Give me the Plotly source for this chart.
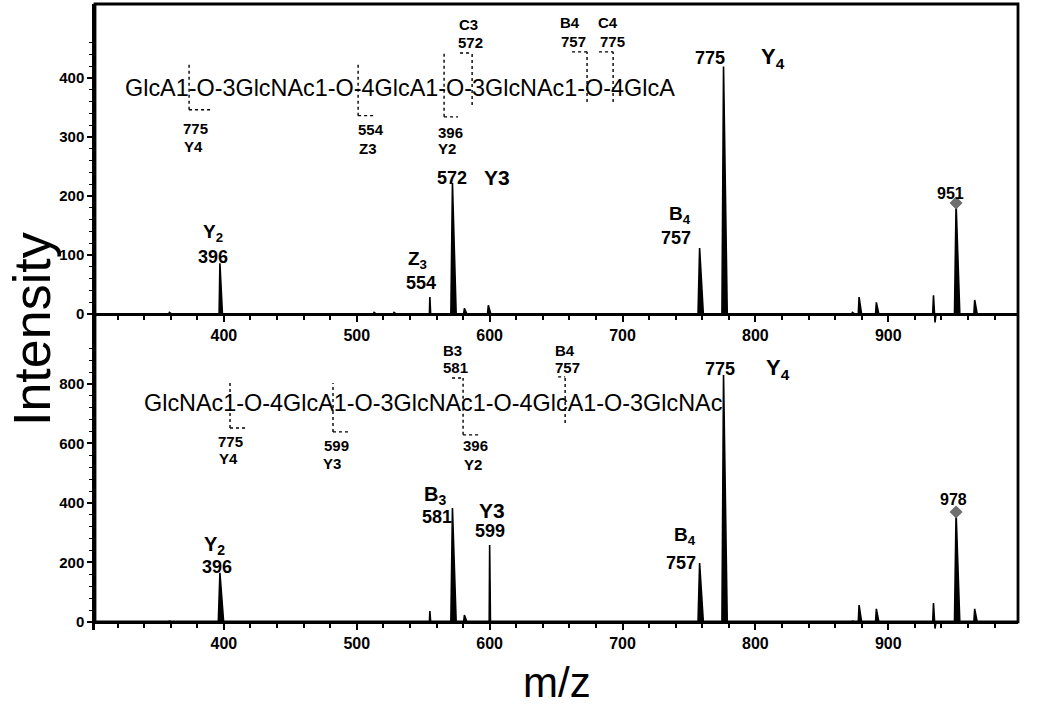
import plotly.graph_objects as go

# ---------------- data ----------------
# spectrum 1 (top): peak centres (m/z), heights, negative lobe
s1_mz = [359, 397, 513, 528, 555, 572, 581, 599, 758, 776, 873, 878, 891, 934, 951, 965]
s1_int = [3, 86, 3, 3, 29, 222, 10, 15, 112, 419, 3, 29, 20, 32, 188, 24]
s1_dip = [0, 0, 0, 0, 0, 0, 0, 0, 0, 0, 0, 0, 0, -14, 0, 0]

# spectrum 2 (bottom)
s2_mz = [359, 397, 555, 572, 581, 600, 758, 776, 873, 878, 891, 934, 951, 965]
s2_int = [3, 165, 37, 383, 23, 259, 198, 830, 3, 57, 44, 64, 370, 44]
s2_dip = [0, 0, 0, 0, 0, 0, 0, 0, 0, 0, 0, -22, 0, 0]

# precursor ions
prec1_mz, prec1_int, prec1_label = 951, 188, "951"
prec2_mz, prec2_int, prec2_label = 951, 370, "978"

x_ticks = [400, 500, 600, 700, 800, 900]
y1_ticks = [0, 100, 200, 300, 400]
y2_ticks = [0, 200, 400, 600, 800]

seq1 = "GlcA1-O-3GlcNAc1-O-4GlcA1-O-3GlcNAc1-O-4GlcA"
seq2 = "GlcNAc1-O-4GlcA1-O-3GlcNAc1-O-4GlcA1-O-3GlcNAc"

XR = [303, 997.6]
Y1R = [-15, 525]
Y2R = [-27, 1005]
SPLIT = 0.4904


def peak_path(mz, inten, dip, x0, x1):
    xs, ys = [x0], [0]
    for c, h, d in zip(mz, inten, dip):
        if c in (555, 600):
            wl, wr = 0.35, 0.6
        elif h >= 100:
            wl, wr = 1.2, 2.8
        else:
            wl, wr = 0.6, 1.9
        if d < 0:
            xs += [c - wl, c, c + wr * 0.6, c + wr]
            ys += [0, h, d, 0]
        else:
            xs += [c - wl, c, c + wr]
            ys += [0, h, 0]
    xs.append(x1)
    ys.append(0)
    return xs, ys


fig = go.Figure()

x1s, y1s = peak_path(s1_mz, s1_int, s1_dip, XR[0], XR[1])
x2s, y2s = peak_path(s2_mz, s2_int, s2_dip, XR[0], XR[1])

fig.add_trace(go.Scatter(x=x1s, y=y1s, mode="lines", fill="tozeroy",
                         line=dict(color="black", width=1.6), fillcolor="black",
                         xaxis="x", yaxis="y", showlegend=False, hoverinfo="skip"))
fig.add_trace(go.Scatter(x=x2s, y=y2s, mode="lines", fill="tozeroy",
                         line=dict(color="black", width=1.6), fillcolor="black",
                         xaxis="x2", yaxis="y2", showlegend=False, hoverinfo="skip"))
fig.add_trace(go.Scatter(x=[prec1_mz], y=[prec1_int], mode="markers",
                         marker=dict(symbol="diamond", size=10, color="#6e6e6e"),
                         xaxis="x", yaxis="y", showlegend=False, cliponaxis=False))
fig.add_trace(go.Scatter(x=[prec2_mz], y=[prec2_int], mode="markers",
                         marker=dict(symbol="diamond", size=10, color="#6e6e6e"),
                         xaxis="x2", yaxis="y2", showlegend=False, cliponaxis=False))

FONT = "Liberation Sans, Arial, sans-serif"
pos1 = SPLIT + (1 - SPLIT) * (0 - Y1R[0]) / (Y1R[1] - Y1R[0])
pos2 = SPLIT * (0 - Y2R[0]) / (Y2R[1] - Y2R[0])

xcommon = dict(range=XR, showline=True, linecolor="black", linewidth=2.5,
               tickvals=x_ticks, ticks="outside", ticklen=6,
               tickwidth=1.8, tickcolor="black", showgrid=False, zeroline=False,
               tickfont=dict(family=FONT, size=16, color="black", weight="bold"),
               minor=dict(tickvals=list(range(320, 981, 20)), ticks="outside",
                          ticklen=4, tickwidth=1.5, tickcolor="black"),
               domain=[0, 1], anchor="free")
ycommon = dict(showline=True, linecolor="black", linewidth=2.5, ticks="outside",
               ticklen=5, tickwidth=1.8, tickcolor="black", showgrid=False,
               zeroline=False, anchor="x",
               tickfont=dict(family=FONT, size=15, color="black", weight="bold"))

fig.update_layout(
    width=1050, height=708,
    margin=dict(l=95, r=32, t=4, b=78),
    paper_bgcolor="white", plot_bgcolor="white",
    xaxis=dict(xcommon, position=pos1),
    xaxis2=dict(xcommon, position=pos2),
    yaxis=dict(ycommon, range=Y1R, domain=[SPLIT, 1], tickvals=y1_ticks,
               minor=dict(tickvals=list(range(0, 461, 20)), ticks="outside",
                          ticklen=3, tickwidth=1.3, tickcolor="black")),
    yaxis2=dict(ycommon, range=Y2R, domain=[0, SPLIT], tickvals=y2_ticks, anchor="x2",
                minor=dict(tickvals=list(range(0, 921, 40)), ticks="outside",
                           ticklen=3, tickwidth=1.3, tickcolor="black")),
)

shapes = [dict(type="rect", xref="paper", yref="paper", x0=0, x1=1, y0=pos2, y1=1,
               line=dict(color="black", width=2.8), layer="above")]

# cleavage marks: (x, y_low, y_high, bottom-bracket-end or None, top-bracket-start or None)
marks1 = [(373.8, 346, 427, 389.6, None), (501.0, 336, 422, 513.8, None),
          (565.7, 334, 442, 576.2, None), (586.8, 354, 442, None, 577.7),
          (673.3, 359, 444, None, 662.0), (692.9, 359, 444, None, 682.3)]
marks2 = [(404.6, 652, 813, 415.9, None), (482.1, 639, 803, 494.9, None),
          (580.0, 629, 820, 592.8, 571.7), (656.8, 669, 824, None, 651.5)]


def add_marks(marks, xr, yr):
    for x, ylo, yhi, bend, tstart in marks:
        shapes.append(dict(type="line", xref=xr, yref=yr, x0=x, x1=x, y0=ylo, y1=yhi,
                           line=dict(color="black", width=1.4, dash="3px,3px")))
        if bend is not None:
            shapes.append(dict(type="line", xref=xr, yref=yr, x0=x, x1=bend, y0=ylo, y1=ylo,
                               line=dict(color="black", width=1.4, dash="dot")))
        if tstart is not None:
            shapes.append(dict(type="line", xref=xr, yref=yr, x0=tstart, x1=x, y0=yhi, y1=yhi,
                               line=dict(color="black", width=1.4, dash="dot")))


add_marks(marks1, "x", "y")
add_marks(marks2, "x2", "y2")
fig.update_layout(shapes=shapes)

ann = []


def A(text, x, y, size, xr, yr, bold=True, xanchor="center"):
    ann.append(dict(text=text, x=x, y=y, xref=xr, yref=yr,
                    showarrow=False, xanchor=xanchor, yanchor="middle",
                    font=dict(family=FONT, size=size, color="black",
                              weight="bold" if bold else "normal")))


# sequences
A(seq1, 324.1, 383, 23.4, "x", "y", bold=False, xanchor="left")
A(seq2, 338.4, 736, 23.4, "x2", "y2", bold=False, xanchor="left")

# fragment labels on structures (top)
for t, x, y in [("775", 379.0, 315), ("Y4", 376.8, 283), ("554", 510.7, 312), ("Z3", 508.5, 281),
                ("396", 570.2, 308), ("Y2", 567.9, 281), ("C3", 583.7, 490), ("572", 585.3, 459),
                ("B4", 660.5, 493), ("757", 662.8, 461), ("C4", 689.1, 493), ("775", 692.1, 461)]:
    A(t, x, y, 15, "x", "y")
# fragment labels on structures (bottom)
for t, x, y in [("775", 404.6, 605), ("Y4", 403.1, 551), ("599", 485.1, 592), ("Y3", 481.4, 534),
                ("B3", 571.7, 914), ("581", 574.0, 854), ("396", 589.5, 592), ("Y2", 587.3, 531),
                ("B4", 656.8, 914), ("757", 658.3, 857)]:
    A(t, x, y, 15, "x2", "y2")

# peak labels (top)
for t, x, y, s in [("Y<sub>2</sub>", 391.8, 137, 19), ("396", 391.8, 97, 18),
                   ("Z<sub>3</sub>", 545.4, 91, 19), ("554", 548.4, 53, 18),
                   ("572", 571.7, 231, 18), ("Y3", 605.6, 231, 21),
                   ("B<sub>4</sub>", 743.3, 167, 19), ("757", 740.3, 129, 18),
                   ("775", 765.9, 434, 18), ("Y<sub>4</sub>", 813.3, 433, 22),
                   (prec1_label, 946.5, 205, 16)]:
    A(t, x, y, s, "x", "y")
# peak labels (bottom)
for t, x, y, s in [("Y<sub>2</sub>", 393.3, 258, 20), ("396", 394.8, 185, 18),
                   ("B<sub>3</sub>", 558.9, 426, 20), ("581", 560.4, 354, 18),
                   ("Y3", 601.8, 376, 21), ("599", 600.3, 306, 18),
                   ("B<sub>4</sub>", 747.1, 290, 19), ("757", 744.1, 198, 18),
                   ("775", 773.4, 850, 18), ("Y<sub>4</sub>", 817.1, 852, 22),
                   (prec2_label, 948.8, 413, 16)]:
    A(t, x, y, s, "x2", "y2")

# axis titles
ann.append(dict(text="Intensity", xref="paper", yref="paper", x=0, y=0.5, xshift=-63,
                yshift=-12, showarrow=False, textangle=-90, xanchor="center",
                yanchor="middle", font=dict(family=FONT, size=52, color="black")))
ann.append(dict(text="m/z", xref="paper", yref="paper", x=0.5, y=0, yshift=-52,
                showarrow=False, xanchor="center", yanchor="middle",
                font=dict(family=FONT, size=42, color="black")))

fig.update_layout(annotations=ann)
fig.write_html("out.html", config={"displayModeBar": False},
               post_script="document.body.style.margin='0';")
